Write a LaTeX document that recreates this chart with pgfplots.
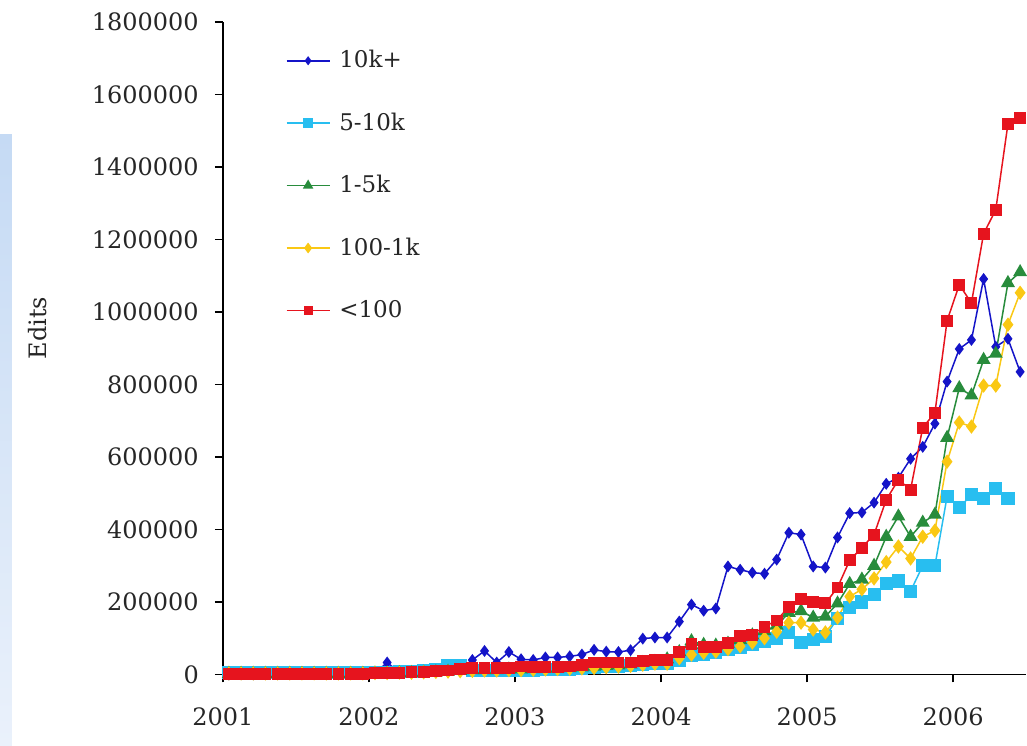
\documentclass[border=0pt]{standalone}
\usepackage{fontspec}
\setmainfont{DejaVu Serif}
\usepackage{pgfplots}
\usepackage{pgfplotstable}
\pgfplotsset{compat=1.18}

\definecolor{cblue}{RGB}{20,20,200}
\definecolor{ccyan}{RGB}{40,190,240}
\definecolor{cgreen}{RGB}{40,140,60}
\definecolor{cyellow}{RGB}{250,200,20}
\definecolor{cred}{RGB}{230,20,30}
\definecolor{bandtop}{RGB}{197,218,244}
\definecolor{bandbot}{RGB}{234,241,251}

\pgfplotstableread{
i blue cyan green yellow red
0 0 5000 2000 3000 2000
1 500 5000 2000 3000 2000
2 500 5000 2000 3000 2000
3 1000 5000 2000 3000 2000
4 1000 5000 2000 3000 2000
5 1000 5000 2000 3000 2000
6 1500 5000 2000 3000 2000
7 1500 5000 2000 3000 2000
8 2000 5000 2000 3000 2000
9 2000 5000 2000 3000 2000
10 2500 5000 2000 3000 2000
11 3000 5000 2000 3000 2000
12 4000 6000 3000 4000 3000
13 33000 6000 3000 4000 4000
14 6000 7000 4000 5000 5000
15 6000 8000 4000 5000 6000
16 7000 10000 5000 6000 7000
17 8000 15000 6000 7000 9000
18 9000 25000 8000 8000 11000
19 15000 25000 10000 9000 14000
20 40000 12000 12000 10000 19000
21 65000 12000 12000 11000 19000
22 33000 10000 12000 11000 18000
23 62000 12000 14000 12000 19000
24 42000 10000 14000 12000 22000
25 40000 12000 15000 13000 20000
26 47000 13000 16000 14000 20000
27 47000 14000 17000 15000 20000
28 50000 15000 18000 16000 22000
29 55000 18000 20000 17000 25000
30 68000 20000 22000 18000 33000
31 63000 22000 24000 20000 33000
32 62000 22000 25000 22000 33000
33 67000 25000 28000 24000 33000
34 99000 28000 32000 27000 36000
35 102000 30000 35000 30000 39000
36 102000 30000 42000 30000 39000
37 146000 38000 62000 45000 63000
38 193000 52000 92000 55000 85000
39 176000 55000 82000 60000 77000
40 182000 60000 80000 63000 77000
41 298000 68000 85000 70000 88000
42 289000 75000 95000 78000 105000
43 281000 82000 108000 88000 110000
44 278000 90000 120000 100000 132000
45 317000 100000 135000 118000 149000
46 391000 115000 170000 143000 187000
47 386000 88000 175000 143000 209000
48 298000 96000 157000 124000 201000
49 295000 105000 160000 116000 196000
50 378000 155000 196000 157000 240000
51 445000 185000 250000 215000 315000
52 447000 200000 262000 235000 350000
53 474000 220000 300000 265000 386000
54 526000 250000 380000 310000 482000
55 543000 258000 436000 353000 537000
56 595000 230000 380000 320000 510000
57 628000 300000 419000 380000 681000
58 692000 300000 441000 397000 722000
59 808000 491000 653000 587000 976000
60 898000 460000 790000 695000 1075000
61 923000 496000 770000 684000 1025000
62 1091000 485000 868000 797000 1216000
63 904000 513000 885000 797000 1282000
64 926000 485000 1080000 965000 1519000
65 835000 nan 1110000 1053000 1535000
}\edits

\begin{document}
\begin{tikzpicture}
\begin{axis}[
  scale only axis, width=402pt, height=326.5pt,
  xmin=0, xmax=66, ymin=0, ymax=1800000,
  axis x line*=bottom, axis y line*=left,
  axis line style={black, line width=0.8pt},
  tick align=outside, major tick length=4pt,
  tick style={black, line width=0.8pt},
  xtick={0,12,24,36,48,60},
  xticklabels={2001,2002,2003,2004,2005,2006},
  ytick={0,200000,400000,600000,800000,1000000,1200000,1400000,1600000,1800000},
  scaled y ticks=false,
  /pgf/number format/assume math mode=true,
  yticklabel style={/pgf/number format/fixed, /pgf/number format/1000 sep={}, xshift=-4.5pt},
  ticklabel style={font=\fontsize{12}{14}\selectfont, text=black!85},
  xticklabel style={yshift=-9pt},
  ylabel={Edits},
  ylabel style={at={(rel axis cs:-0.231,0.531)}, anchor=center, font=\fontsize{12}{14}\selectfont, text=black!85},
  clip=false,
  legend style={draw=none, fill=none, at={(rel axis cs:0.078,0.963)}, anchor=north west,
    row sep=17pt, column sep=2.5pt, font=\fontsize{11.5}{13}\selectfont, text=black!85, inner sep=0pt},
  legend cell align=left,
  legend image post style={mark options={scale=0.7}},
  legend image code/.code={\draw[mark repeat=2,mark phase=2,#1] plot coordinates {(0pt,0pt) (10.75pt,0pt) (21.5pt,0pt)};},
]
\shade[top color=bandtop, bottom color=bandbot] (rel axis cs:-0.27736,0.82695) rectangle (rel axis cs:-0.26244,-0.10873);
\path (rel axis cs:-0.27736,-0.10873) (rel axis cs:1,1.03369);
\addplot[cblue, line width=0.75pt, mark=diamond*, mark size=2.4pt] table[x expr=\thisrow{i}+0.5, y=blue] {\edits};
\addlegendentry{10k+}
\addplot[ccyan, line width=0.75pt, mark=square*, mark size=2.9pt] table[x expr=\thisrow{i}+0.5, y=cyan] {\edits};
\addlegendentry{5-10k}
\addplot[cgreen, line width=0.75pt, mark=triangle*, mark size=3.3pt] table[x expr=\thisrow{i}+0.5, y=green] {\edits};
\addlegendentry{1-5k}
\addplot[cyellow, line width=0.75pt, mark=diamond*, mark size=3pt] table[x expr=\thisrow{i}+0.5, y=yellow] {\edits};
\addlegendentry{100-1k}
\addplot[cred, line width=0.75pt, mark=square*, mark size=2.6pt] table[x expr=\thisrow{i}+0.5, y=red] {\edits};
\addlegendentry{<100}
\end{axis}
\end{tikzpicture}
\end{document}
